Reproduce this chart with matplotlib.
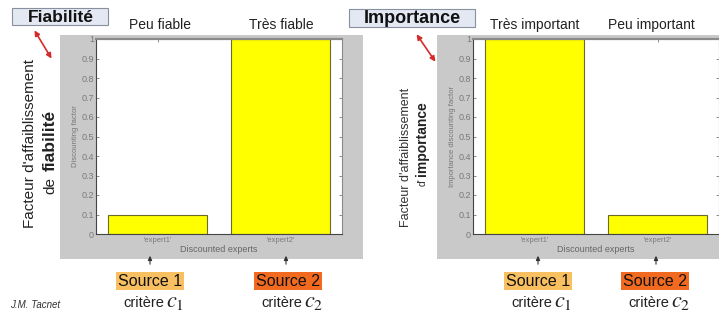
import matplotlib
matplotlib.use("Agg")
import matplotlib.pyplot as plt
from matplotlib.patches import Rectangle, FancyArrowPatch

plt.rcParams['font.family'] = ['Liberation Sans', 'DejaVu Sans']
plt.rcParams['mathtext.fontset'] = 'stix'

# ---- data ----
experts = ["'expert1'", "'expert2'"]
fiabilite = [0.1, 1.0]
importance = [1.0, 0.1]
titles_fiab = ["Peu fiable", "Très fiable"]
titles_imp = ["Très important", "Peu important"]
yticks = [0, 0.1, 0.2, 0.3, 0.4, 0.5, 0.6, 0.7, 0.8, 0.9, 1]
ytick_labels = ["0", "0.1", "0.2", "0.3", "0.4", "0.5", "0.6", "0.7", "0.8", "0.9", "1"]
sources = ["Source 1", "Source 2"]
criteres = ["$c_1$", "$c_2$"]

W, H = 719, 316
fig = plt.figure(figsize=(W / 100, H / 100), dpi=100)
fig.patch.set_facecolor('white')


def fx(px):
    return px / W


def fy(py):
    return 1 - py / H


def rect(x0, y0, x1, y1, **kw):
    fig.patches.append(Rectangle((fx(x0), fy(y1)), fx(x1) - fx(x0), fy(y0) - fy(y1),
                                 transform=fig.transFigure, **kw))


GRAY_BG = '#c9c9c9'
TICK_C = '#7a7a7a'

# gray backgrounds (matlab figure areas)
rect(60, 35, 363, 259, facecolor=GRAY_BG, edgecolor='none', zorder=-5)
rect(437, 35, 720, 259, facecolor=GRAY_BG, edgecolor='none', zorder=-5)


def make_axes(x0px, values, ylabel_small):
    ax = fig.add_axes([fx(x0px), fy(234), fx(246), (234 - 39) / H])
    ax.set_zorder(2)
    ax.set_facecolor('white')
    ax.bar(range(1, len(values) + 1), values, width=0.8, color='#ffff00',
           edgecolor='#6b6b2a', linewidth=0.8, zorder=2)
    ax.set_xlim(0.5, 2.5)
    ax.set_ylim(0, 1)
    ax.set_yticks(yticks)
    ax.set_yticklabels(ytick_labels)
    ax.set_xticks([1, 2])
    ax.set_xticklabels(experts)
    ax.tick_params(axis='both', direction='in', length=2.5, width=0.6, colors=TICK_C,
                   labelsize=5.5, pad=2, top=True, right=True)
    ax.tick_params(axis='y', pad=1.5, labelsize=6.5)
    for s in ax.spines.values():
        s.set_color('#8a8a8a')
        s.set_linewidth(0.8)
    ax.spines['top'].set_linewidth(1.6)
    ax.spines['left'].set_color('#444444')
    ax.spines['bottom'].set_color('#444444')
    ax.set_xlabel("Discounted experts", fontsize=6.5, color='#666666', labelpad=1)
    ax.set_ylabel(ylabel_small, fontsize=5.5, color='#777777', labelpad=2)
    return ax


ax1 = make_axes(96, fiabilite, "Discounting factor")
ax2 = make_axes(473, importance, "Importance discounting factor")

# column titles
for t, x in zip(titles_fiab, [160, 281]):
    fig.text(fx(x), fy(25), t, ha='center', va='center', fontsize=10, color='#222222')
for t, x in zip(titles_imp, [535, 651]):
    fig.text(fx(x), fy(25), t, ha='center', va='center', fontsize=10, color='#222222')

# boxed headings
rect(12, 8, 108, 25, facecolor='#e3e8f2', edgecolor='#8890a0', linewidth=0.8, zorder=1)
rect(349, 9, 475, 27, facecolor='#e3e8f2', edgecolor='#8890a0', linewidth=0.8, zorder=1)
fig.text(fx(61), fy(17), "Fiabilité", ha='center', va='center', fontsize=12.5, fontweight='bold',
         color='#111111', zorder=3)
fig.text(fx(412), fy(18.5), "Importance", ha='center', va='center', fontsize=13, fontweight='bold',
         color='#111111', zorder=3)

# red double arrows
for (x0, y0, x1, y1) in [(33, 28, 53, 61), (415, 32, 437, 64)]:
    fig.patches.append(FancyArrowPatch((fx(x0), fy(y0)), (fx(x1), fy(y1)), transform=fig.transFigure,
                                       arrowstyle='<|-|>,head_length=3,head_width=1.5',
                                       color='#d42a2a', linewidth=1.2, zorder=5))

# big left labels
fig.text(fx(30), fy(144), "Facteur d'affaiblissement", rotation=90, ha='center', va='center',
         fontsize=11, color='#222222')
fig.text(fx(50), fy(185), "de", rotation=90, ha='center', va='center',
         fontsize=11, color='#222222')
fig.text(fx(50), fy(140), "fiabilité", rotation=90, ha='center', va='center',
         fontsize=12.5, fontweight='bold', color='#222222')

fig.text(fx(406), fy(157), "Facteur d'affaiblissement", rotation=90, ha='center', va='center',
         fontsize=9, color='#333333')
fig.text(fx(423), fy(182), "d'", rotation=90, ha='center', va='center',
         fontsize=7.5, color='#333333')
fig.text(fx(422), fy(139), "importance", rotation=90, ha='center', va='center',
         fontsize=10, fontweight='bold', color='#222222')

# small black arrows from source to axis
for x in [150, 286, 538, 656]:
    fig.patches.append(FancyArrowPatch((fx(x), fy(267)), (fx(x), fy(253)), transform=fig.transFigure,
                                       arrowstyle='-|>,head_length=2.5,head_width=1.2',
                                       color='#333333', linewidth=0.8, zorder=5))

# source boxes and criteria
src_colors = ['#f8c060', '#f26a1f']
for centers in ([150, 288], [538, 655]):
    for i, cx in enumerate(centers):
        fig.text(fx(cx), fy(281), sources[i], ha='center', va='center', fontsize=11.5, color='#111111',
                 bbox=dict(boxstyle='square,pad=0.12', facecolor=src_colors[i], edgecolor='none'))
        fig.text(fx(cx + 14), fy(303), "critère", ha='right', va='center', fontsize=10.5, color='#222222')
        fig.text(fx(cx + 16), fy(301), criteres[i], ha='left', va='center', fontsize=16, color='#222222')

fig.text(fx(10), fy(305), "J.M. Tacnet", ha='left', va='center', fontsize=7, style='italic',
         color='#333333')

fig.savefig("out.png", dpi=100)
